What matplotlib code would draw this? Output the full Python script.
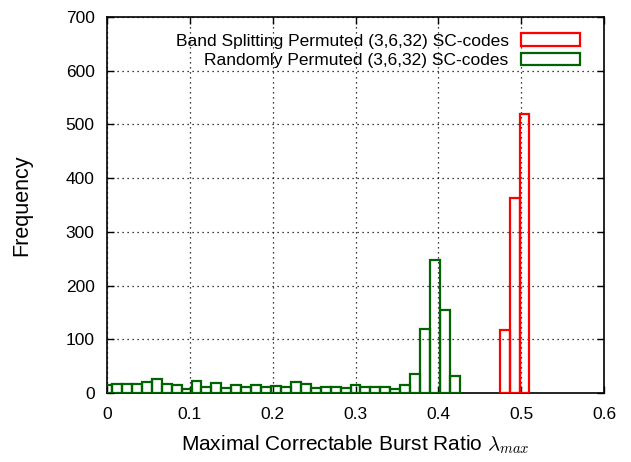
import matplotlib
matplotlib.use("Agg")
import matplotlib.pyplot as plt
from matplotlib.patches import Patch
import numpy as np

plt.rcParams["font.family"] = ["Liberation Sans", "DejaVu Sans"]
plt.rcParams["mathtext.fontset"] = "cm"

BIN = 0.012  # bins centred on multiples of BIN

# randomly permuted codes, bins k = 0..35
green_counts = [15, 17, 17, 17, 21, 26, 17, 15, 8, 23, 11, 19, 9, 14, 11, 14, 12, 13,
                11, 20, 17, 9, 12, 12, 10, 14, 11, 11, 11, 8, 14, 36, 120, 247, 155, 32]
green_start = 0

# band splitting permuted codes, bins k = 40..42
red_counts = [117, 363, 520]
red_start = 40

labels = ["Band Splitting Permuted (3,6,32) SC-codes",
          "Randomly Permuted (3,6,32) SC-codes"]
colors = ["#ff0000", "#006400"]

xticks = [0, 0.1, 0.2, 0.3, 0.4, 0.5, 0.6]
xticklabels = ["0", "0.1", "0.2", "0.3", "0.4", "0.5", "0.6"]
yticks = list(range(0, 701, 100))


fig = plt.figure(figsize=(6.31, 4.62), dpi=100)
ax = fig.add_axes([0.1696, 0.1494, 0.7876, 0.8138])

gx = (green_start + np.arange(len(green_counts))) * BIN
rx = (red_start + np.arange(len(red_counts))) * BIN
ax.bar(gx, green_counts, width=BIN, fill=False, edgecolor=colors[1], linewidth=1.6, zorder=3)
ax.bar(rx, red_counts, width=BIN, fill=False, edgecolor=colors[0], linewidth=1.6, zorder=3)

ax.set_xlim(0, 0.6)
ax.set_ylim(0, 700)
ax.set_xticks(xticks)
ax.set_xticklabels(xticklabels)
ax.set_yticks(yticks)
ax.tick_params(direction="in", length=5, width=1, top=True, right=True, labelsize=12.5)
ax.tick_params(axis="x", pad=10)
ax.tick_params(axis="y", pad=9)
ax.grid(True, linestyle=(0, (1, 3)), color="black", linewidth=0.9)
ax.set_axisbelow(True)
for s in ax.spines.values():
    s.set_linewidth(1.2)

ax.set_xlabel(r"Maximal Correctable Burst Ratio $\lambda_{max}$", fontsize=15, va="center")
ax.xaxis.set_label_coords(0.5, -0.138)
ax.set_ylabel("Frequency", fontsize=15.5, va="center")
ax.yaxis.set_label_coords(-0.171, 0.5)

handles = [Patch(facecolor="white", edgecolor=c, linewidth=1.6) for c in colors]
leg = ax.legend(handles, labels, loc="upper right", bbox_to_anchor=(0.984, 0.998),
                markerfirst=False, frameon=False, fontsize=12.5,
                handlelength=3.45, handleheight=0.7, handletextpad=0.69, labelspacing=0.25)
for t in leg.get_texts():
    t.set_ha("right")
leg.set_zorder(5)

fig.savefig("out.png", dpi=100)
